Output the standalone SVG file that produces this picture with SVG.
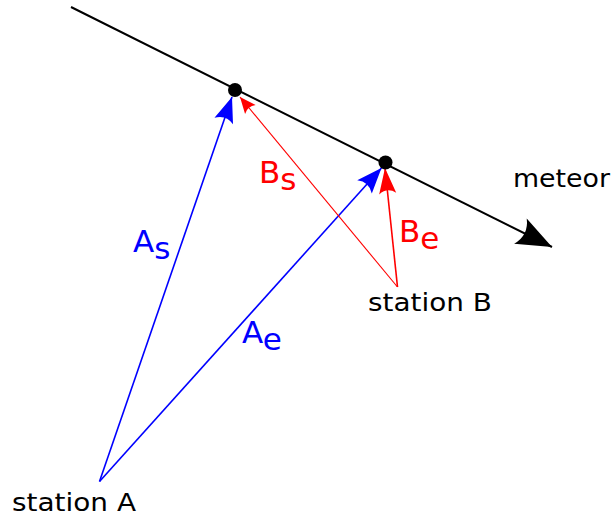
<svg xmlns="http://www.w3.org/2000/svg" width="613" height="516" viewBox="0 0 613 516">
<style>
.lbl{font-family:"DejaVu Sans","Verdana",sans-serif;}
.blue{fill:#0000ff;}
.red{fill:#ff0000;}
.blk{fill:#000;}
</style>
<defs>
<marker id="hBlack" markerUnits="userSpaceOnUse" orient="auto" markerWidth="40" markerHeight="40" viewBox="-32 -14 34 28" refX="0" refY="0">
<path d="M0,0 L-30,-12 Q-22,0 -30,12 Z" fill="#000"/>
</marker>
<marker id="hBlue" markerUnits="userSpaceOnUse" orient="auto" markerWidth="30" markerHeight="30" viewBox="-24 -10 26 20" refX="0" refY="0">
<path d="M0,0 L-22,-8.5 Q-16,0 -22,8.5 Z" fill="#0000ff"/>
</marker>
<marker id="hRed" markerUnits="userSpaceOnUse" orient="auto" markerWidth="30" markerHeight="30" viewBox="-26 -10 28 20" refX="0" refY="0">
<path d="M0,0 L-24,-8 Q-18,0 -24,8 Z" fill="#ff0000"/>
</marker>
<marker id="hRedS" markerUnits="userSpaceOnUse" orient="auto" markerWidth="20" markerHeight="20" viewBox="-14 -7 16 14" refX="0" refY="0">
<path d="M0,0 L-13,-5.5 Q-9.5,0 -13,5.5 Z" fill="#ff0000"/>
</marker>
</defs>
<g id="connectors" fill="none">
<path id="meteor-path" d="M71,7 L552,247" stroke="#000" stroke-width="2" marker-end="url(#hBlack)"/>
<path id="As" d="M99.5,481.5 L232,97" stroke="#0000ff" stroke-width="1.6" marker-end="url(#hBlue)"/>
<path id="Ae" d="M99.5,481.5 L381.5,168" stroke="#0000ff" stroke-width="1.6" marker-end="url(#hBlue)"/>
<path id="Bs" d="M397.5,287 L240,97" stroke="#ff0000" stroke-width="1.1" marker-end="url(#hRedS)"/>
<path id="Be" d="M397.5,287 L385,168" stroke="#ff0000" stroke-width="1.6" marker-end="url(#hRed)"/>
</g>
<g id="point-start"><circle cx="235" cy="90" r="7" fill="#000"/></g>
<g id="point-end"><circle cx="385.5" cy="162.5" r="7" fill="#000"/></g>
<g id="label-meteor"><text class="lbl blk" x="513" y="187" font-size="24" textLength="97" lengthAdjust="spacingAndGlyphs">meteor</text></g>
<g id="station-B"><text class="lbl blk" x="368" y="311" font-size="25" textLength="124" lengthAdjust="spacingAndGlyphs">station B</text></g>
<g id="station-A"><text class="lbl blk" x="12" y="511" font-size="25" textLength="124" lengthAdjust="spacingAndGlyphs">station A</text></g>
<g id="label-As"><text class="lbl blue" x="133" y="252" font-size="31">A<tspan dy="7">s</tspan></text></g>
<g id="label-Ae"><text class="lbl blue" x="242" y="343" font-size="31">A<tspan dy="7">e</tspan></text></g>
<g id="label-Bs"><text class="lbl red" x="259" y="183" font-size="31">B<tspan dy="7">s</tspan></text></g>
<g id="label-Be"><text class="lbl red" x="399" y="242" font-size="31">B<tspan dy="7">e</tspan></text></g>
</svg>
